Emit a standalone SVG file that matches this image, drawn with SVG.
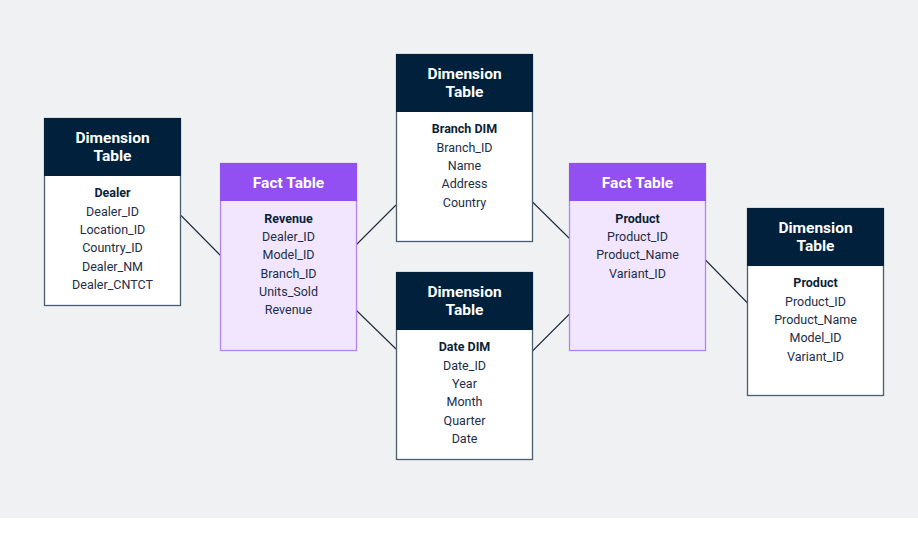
<svg xmlns="http://www.w3.org/2000/svg" width="918" height="533" viewBox="0 0 918 533">
<style>
text{font-family:Roboto,"Liberation Sans",sans-serif;text-anchor:middle}
.hd{font-size:15.5px;font-weight:700;fill:#ffffff}
.tt{font-size:12.5px;font-weight:700;fill:#0c1f38}
.rw{font-size:12.5px;fill:#1d2d47}
.dimbody{fill:#ffffff;stroke:#4d5d70;stroke-width:1.3}
.dimhead{fill:#01203b}
.factbody{fill:#f1e6fd;stroke:#b383f7;stroke-width:1.3}
.facthead{fill:#924ff2}
.con{stroke:#1c2a3c;stroke-width:1.1;fill:none}
</style>
<rect x="0" y="0" width="918" height="518" fill="#f0f1f3"/>
<rect x="0" y="518" width="918" height="15" fill="#ffffff"/>
<g id="connectors">
<line class="con" x1="181" y1="215.5" x2="220.5" y2="255.5"/>
<line class="con" x1="356" y1="245" x2="396" y2="205"/>
<line class="con" x1="356" y1="310" x2="396" y2="349"/>
<line class="con" x1="532" y1="201.5" x2="569.5" y2="238.5"/>
<line class="con" x1="532" y1="351.5" x2="569.5" y2="314"/>
<line class="con" x1="705.5" y1="260" x2="747.5" y2="303"/>
</g>
<g id="dealer-dim">
<rect class="dimbody" x="44.5" y="118.5" width="136" height="187"/>
<rect class="dimhead" x="44" y="118" width="137" height="58"/>
<text class="hd" x="112.5" y="143">Dimension</text>
<text class="hd" x="112.5" y="161">Table</text>
<text class="tt" x="112.5" y="197">Dealer</text>
<text class="rw" x="112.5" y="215.5">Dealer_ID</text>
<text class="rw" x="112.5" y="234">Location_ID</text>
<text class="rw" x="112.5" y="252.3">Country_ID</text>
<text class="rw" x="112.5" y="270.6">Dealer_NM</text>
<text class="rw" x="112.5" y="288.9">Dealer_CNTCT</text>
</g>
<g id="revenue-fact">
<rect class="factbody" x="220.5" y="163.5" width="136" height="187"/>
<rect class="facthead" x="220" y="163" width="137" height="38"/>
<text class="hd" x="288.5" y="187.5">Fact Table</text>
<text class="tt" x="288.5" y="222.6">Revenue</text>
<text class="rw" x="288.5" y="241">Dealer_ID</text>
<text class="rw" x="288.5" y="259.3">Model_ID</text>
<text class="rw" x="288.5" y="277.6">Branch_ID</text>
<text class="rw" x="288.5" y="295.9">Units_Sold</text>
<text class="rw" x="288.5" y="314.2">Revenue</text>
</g>
<g id="branch-dim">
<rect class="dimbody" x="396.5" y="54.5" width="136" height="187"/>
<rect class="dimhead" x="396" y="54" width="137" height="58"/>
<text class="hd" x="464.5" y="79">Dimension</text>
<text class="hd" x="464.5" y="97">Table</text>
<text class="tt" x="464.5" y="133.3">Branch DIM</text>
<text class="rw" x="464.5" y="151.7">Branch_ID</text>
<text class="rw" x="464.5" y="170">Name</text>
<text class="rw" x="464.5" y="188.3">Address</text>
<text class="rw" x="464.5" y="206.6">Country</text>
</g>
<g id="date-dim">
<rect class="dimbody" x="396.5" y="272.5" width="136" height="187"/>
<rect class="dimhead" x="396" y="272" width="137" height="58"/>
<text class="hd" x="464.5" y="297">Dimension</text>
<text class="hd" x="464.5" y="315">Table</text>
<text class="tt" x="464.5" y="351.3">Date DIM</text>
<text class="rw" x="464.5" y="369.7">Date_ID</text>
<text class="rw" x="464.5" y="388">Year</text>
<text class="rw" x="464.5" y="406.3">Month</text>
<text class="rw" x="464.5" y="424.6">Quarter</text>
<text class="rw" x="464.5" y="442.9">Date</text>
</g>
<g id="product-fact">
<rect class="factbody" x="569.5" y="163.5" width="136" height="187"/>
<rect class="facthead" x="569" y="163" width="137" height="38"/>
<text class="hd" x="637.5" y="187.5">Fact Table</text>
<text class="tt" x="637.5" y="222.6">Product</text>
<text class="rw" x="637.5" y="241">Product_ID</text>
<text class="rw" x="637.5" y="259.3">Product_Name</text>
<text class="rw" x="637.5" y="277.6">Variant_ID</text>
</g>
<g id="product-dim">
<rect class="dimbody" x="747.5" y="208.5" width="136" height="187"/>
<rect class="dimhead" x="747" y="208" width="137" height="58"/>
<text class="hd" x="815.5" y="233">Dimension</text>
<text class="hd" x="815.5" y="251">Table</text>
<text class="tt" x="815.5" y="287.3">Product</text>
<text class="rw" x="815.5" y="305.7">Product_ID</text>
<text class="rw" x="815.5" y="324">Product_Name</text>
<text class="rw" x="815.5" y="342.3">Model_ID</text>
<text class="rw" x="815.5" y="360.6">Variant_ID</text>
</g>
</svg>
